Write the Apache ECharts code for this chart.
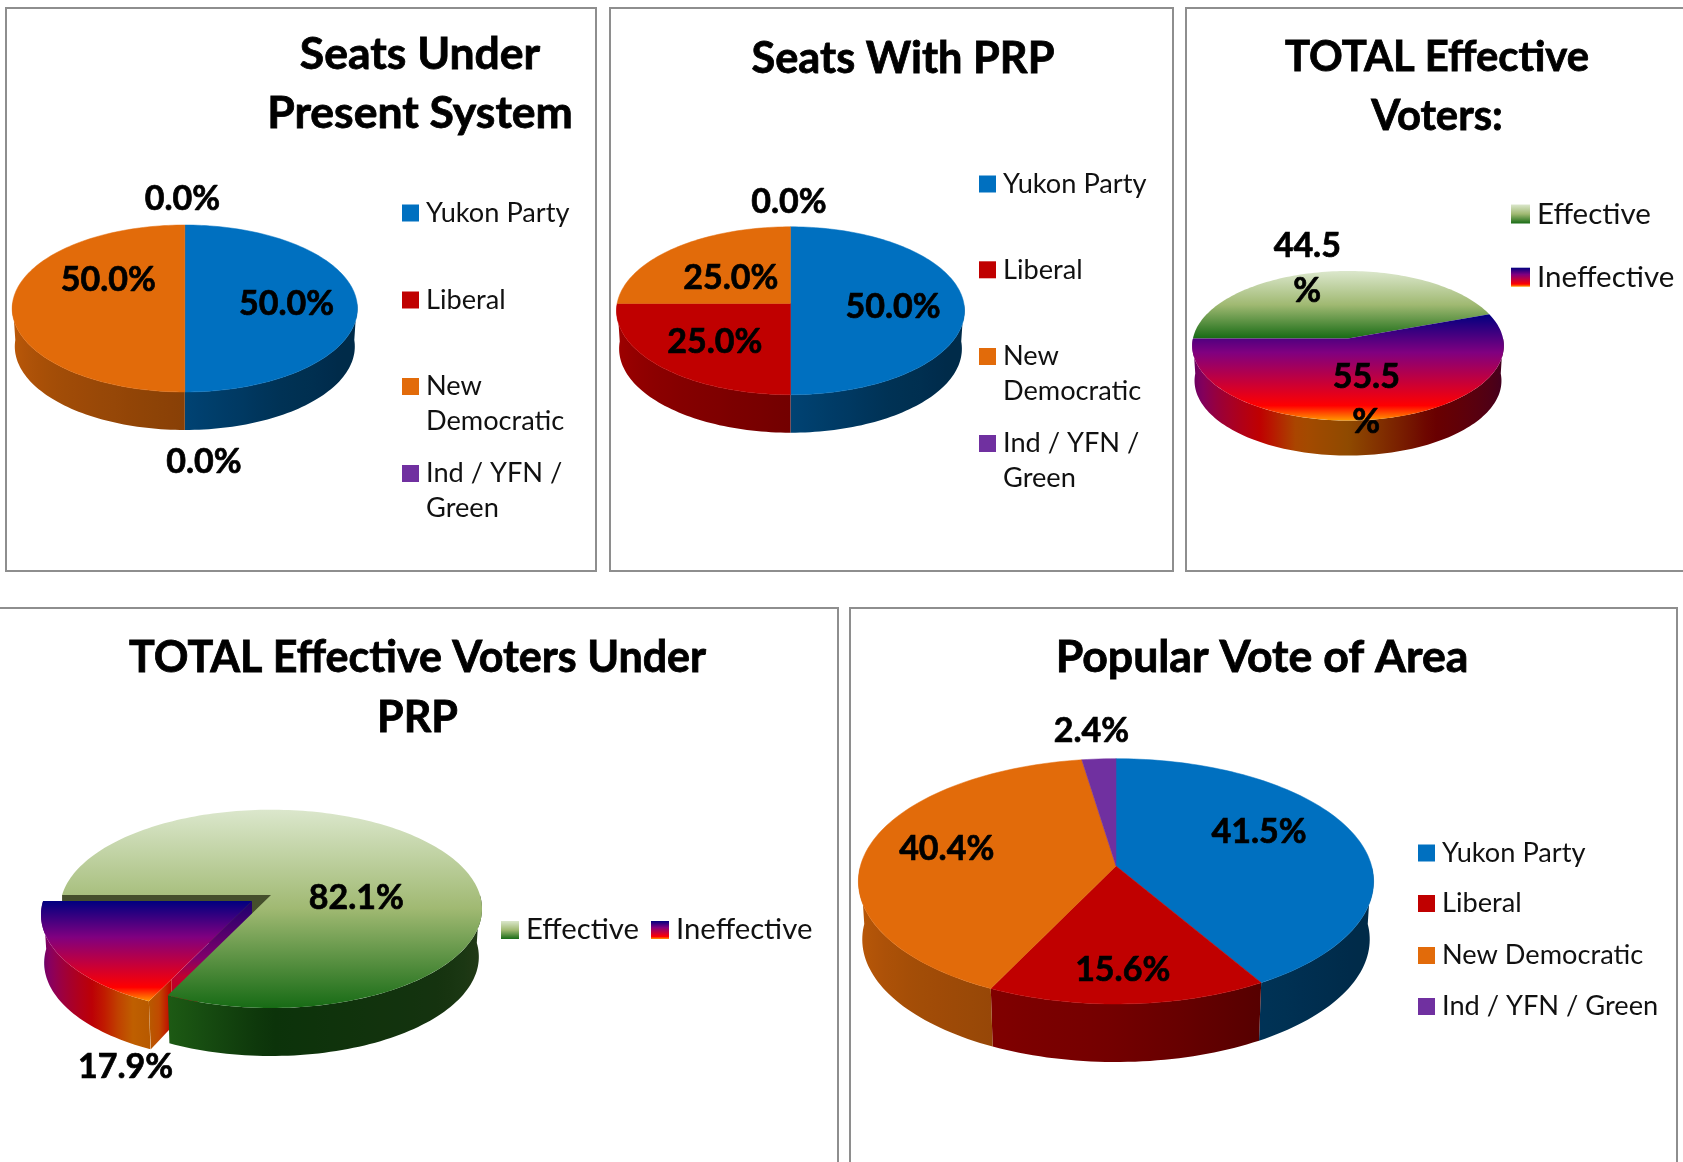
<!DOCTYPE html>
<html>
<head>
<meta charset="utf-8">
<style>html,body{margin:0;padding:0;background:#fff}#chart{width:1683px;height:1162px}</style>
<script src="https://cdn.jsdelivr.net/npm/echarts@6/dist/echarts.min.js"></script>
</head>
<body>
<div id="chart"></div>
<script>
// ---- data ----
const partyNames = ['Yukon Party', 'Liberal', 'New Democratic', 'Ind / YFN / Green'];
const voterNames = ['Effective', 'Ineffective'];
const seatsPresent = [50.0, 0.0, 50.0, 0.0];
const seatsPRP = [50.0, 25.0, 25.0, 0.0];
const totalEffective = [44.5, 55.5];
const totalEffectivePRP = [82.1, 17.9];
const popularVote = [41.5, 15.6, 40.4, 2.4];

// ---- styling ----
const FONT = 'Lato';
const partyColors = ['#0070c0', '#c00000', '#e26b0a', '#7030a0'];
const effStops = [[0, '#dbe7cc'], [0.5, '#a0b972'], [1, '#176b15']];
const ineffStops = [[0, '#000080'], [0.36, '#800080'], [0.86, '#ff0000'], [1, '#ff9a00']];
const shadeAnchors = [[90, .38], [120, .38], [150, .45], [180, .6], [225, .72], [270, .87]];
const effWall = [[90, '#2a3f1c'], [135, '#15330f'], [180, '#0c330a'], [205, '#1d5a14'], [270, '#2a6a20']];
const ineffWall = [[90, '#35002a'], [150, '#6a0000'], [180, '#8f4a00'], [197, '#a84a00'], [211, '#c00000'], [245, '#800060'], [270, '#4a0060']];
const ineffWallExploded = [[90, '#c00000'], [205.6, '#b85a00'], [211, '#c06000'], [222, '#c00000'], [245, '#8a0060'], [270, '#3a0070']];

const panels = [
  { names: partyNames, values: seatsPresent, start: 0,
    box: [6, 8, 590, 563],
    title: 'Seats Under\nPresent System', titleX: 420, titleY: 25, titleLH: 59, titleSize: 44.5,
    geo: { cx: 184.8, apexY: 302, rx: 172.6, rTop: 77, rBot: 90, depth: 38 },
    labels: [[286.6, 303.7], [204, 462.5], [108.4, 280], [182.5, 199.5]], labelSize: 34,
    legend: { x: 402, ys: [213, 300, 386.5, 473.5], size: 27.2, lh: 35, icon: 17,
      text: ['Yukon Party', 'Liberal', '\nNew\nDemocratic', '\nInd / YFN /\nGreen'] } },
  { names: partyNames, values: seatsPRP, start: 0,
    box: [610, 8, 563, 563],
    title: 'Seats With PRP', titleX: 903, titleY: 30, titleLH: 59, titleSize: 43.3,
    geo: { cx: 790.5, apexY: 303.4, rx: 174, rTop: 76.6, rBot: 91.3, depth: 38 },
    labels: [[893, 306.9], [714.8, 342.3], [730.9, 278], [788.9, 201.7]], labelSize: 34,
    legend: { x: 979, ys: [184, 269.8, 356.5, 443.5], size: 27.2, lh: 35, icon: 17,
      text: ['Yukon Party', 'Liberal', '\nNew\nDemocratic', '\nInd / YFN /\nGreen'] } },
  { names: voterNames, values: totalEffective, start: 270, gradients: [effStops, ineffStops],
    walls: [effWall, ineffWall],
    box: [1186, 8, 510, 563],
    title: 'TOTAL Effective\nVoters:', titleX: 1437, titleY: 28, titleLH: 59, titleSize: 41.8,
    geo: { cx: 1348, apexY: 338.5, rx: 155.8, rTop: 67.5, rBot: 82, depth: 35 },
    labels: [[1307.3, 269], [1366.3, 400]], labelSize: 34, labelWrap: true,
    legend: { x: 1511, ys: [214, 277.2], size: 29.5, lh: 36, icon: 19 } },
  { names: voterNames, values: totalEffectivePRP, start: 270, gradients: [effStops, ineffStops],
    walls: [effWall, ineffWallExploded], explode: [null, [-19, 6]],
    box: [-6, 608, 844, 570],
    title: 'TOTAL Effective Voters Under\nPRP', titleX: 417.5, titleY: 628, titleLH: 60, titleSize: 43,
    geo: { cx: 271, apexY: 895, rx: 211, rTop: 85.3, rBot: 113, depth: 48 },
    labels: [[356.3, 898.3], [125.6, 1066.8]], labelSize: 34,
    legend: { x: 501, ys: [930], size: 29.3, lh: 36, icon: 18, horizontal: true, gap: 12 } },
  { names: partyNames, values: popularVote, start: 0,
    box: [850, 608, 827, 570],
    title: 'Popular Vote of Area', titleX: 1262, titleY: 628, titleLH: 60, titleSize: 44.6,
    geo: { cx: 1116, apexY: 866, rx: 257.6, rTop: 107.3, rBot: 138, depth: 58 },
    labels: [[1259, 831.7], [1122.7, 970.2], [946.7, 848.9], [1091.5, 730.8]], labelSize: 34,
    legend: { x: 1418, ys: [853, 903.5, 955.5, 1006.5], size: 27.2, lh: 35, icon: 17 } }
];

// ---- helpers ----
function hex(c) { return [1, 3, 5].map(i => parseInt(c.substr(i, 2), 16)); }
function rgb(a) { return 'rgb(' + a.map(v => Math.round(v)).join(',') + ')'; }
function mix(a, b, t) { return a.map((v, i) => v + (b[i] - v) * t); }
function anchorsFor(base) { const c = hex(base); return shadeAnchors.map(([a, f]) => [a, rgb(c.map(v => v * f))]); }
function parseC(s) { return s[0] === '#' ? hex(s) : s.match(/[\d.]+/g).map(Number); }
function colorAt(anchors, ang) {
  let a = ((ang % 360) + 360) % 360;
  if (a < 90) a = 90; if (a > 270) a = 270;
  for (let i = 0; i < anchors.length - 1; i++) {
    if (a <= anchors[i + 1][0]) {
      const t = (a - anchors[i][0]) / (anchors[i + 1][0] - anchors[i][0]);
      return rgb(mix(parseC(anchors[i][1]), parseC(anchors[i + 1][1]), t));
    }
  }
  return anchors[anchors.length - 1][1];
}
function projector(g) {
  const k = (g.rBot - g.rTop) / (g.rBot + g.rTop);
  const b = g.rTop * (1 + k);
  const rx0 = g.rx * Math.sqrt(1 - k * k);
  return deg => {
    const t = deg * Math.PI / 180, u = Math.sin(t), v = Math.cos(t), d = 1 + k * v;
    return [g.cx + rx0 * u / d, g.apexY - b * v / d];
  };
}
function samples(a, b) {
  const n = Math.max(2, Math.ceil((b - a) / 1.5)), out = [];
  for (let i = 0; i <= n; i++) out.push(a + (b - a) * i / n);
  return out;
}
const BASE_SCALE = 0.985;
function vGrad(stops) { return new echarts.graphic.LinearGradient(0, 0, 0, 1, stops.map(([o, c]) => ({ offset: o, color: c }))); }
function hGrad(stops) { return new echarts.graphic.LinearGradient(0, 0, 1, 0, stops.map(([o, c]) => ({ offset: o, color: c }))); }

function sliceRange(panel, i) {
  const total = panel.values.reduce((s, v) => s + v, 0);
  const before = panel.values.slice(0, i).reduce((s, v) => s + v, 0);
  const a0 = panel.start + before / total * 360;
  return [a0, a0 + panel.values[i] / total * 360];
}

function wallRender(panel, i) {
  return function (params, api) {
    if (!api.value(0)) return { type: 'group', children: [] };
    const g = panel.geo, rim = projector(g), [a0, a1] = sliceRange(panel, i);
    const off = (panel.explode && panel.explode[i]) || [0, 0];
    const P = a => { const p = rim(a); return [p[0] + off[0], p[1] + off[1]]; };
    const B = a => { const p = rim(a); return [g.cx + off[0] + (p[0] - g.cx) * BASE_SCALE, p[1] + off[1] + g.depth]; };
    const anchors = panel.walls ? panel.walls[i] : anchorsFor(partyColors[i]);
    const children = [];
    if (panel.explode && panel.explode[i]) {
      // wall of the notch the pulled-out slice leaves behind, then the slice's own cut face
      const L = rim(a1), ax = g.cx, ay = g.apexY;
      children.push({ type: 'polygon', shape: { points: [[ax, ay], L, [L[0], L[1] + g.depth], [ax, ay + g.depth]] }, style: { fill: '#454f2c' } });
      const A = [ax + off[0], ay + off[1]], T = P(a0), d = g.depth;
      const Q = [T[0] + (A[0] - T[0]) * 0.22, T[1] + (A[1] - T[1]) * 0.22];
      children.push({ type: 'polygon', shape: { points: [A, Q, [Q[0], Q[1] + d], [A[0], A[1] + d]] },
        style: { fill: vGrad([[0, '#1a0070'], [0.45, '#80006a'], [0.6, '#c00030'], [1, '#c00000']]) } });
      children.push({ type: 'polygon', shape: { points: [T, Q, [Q[0], Q[1] + d], [T[0] + 2, T[1] + d]] },
        style: { fill: hGrad([[0, '#b85a00'], [0.45, '#c04a00'], [1, '#c00000']]) } });
    }
    [0, 360].forEach(s => {
      const a = Math.max(a0, 90 + s), b = Math.min(a1, 270 + s);
      if (b - a < 0.01) return;
      const angs = samples(a, b);
      const top = angs.map(P), base = angs.map(B).reverse();
      const pts = top.concat(base), xs = pts.map(p => p[0]);
      const minX = Math.min.apply(null, xs), maxX = Math.max.apply(null, xs);
      const stops = angs.filter((x, j) => j % 3 === 0 || j === angs.length - 1)
        .map(x => ({ offset: Math.min(1, Math.max(0, (P(x)[0] - minX) / (maxX - minX))), color: colorAt(anchors, x) }))
        .sort((p, q) => p.offset - q.offset);
      children.push({ type: 'polygon', shape: { points: pts }, style: { fill: new echarts.graphic.LinearGradient(0, 0, 1, 0, stops) } });
    });
    return { type: 'group', children };
  };
}
function topRender(panel, i) {
  return function (params, api) {
    if (!api.value(0)) return { type: 'group', children: [] };
    const g = panel.geo, rim = projector(g), [a0, a1] = sliceRange(panel, i);
    const off = (panel.explode && panel.explode[i]) || [0, 0];
    const pts = [[g.cx + off[0], g.apexY + off[1]]].concat(samples(a0, a1).map(a => { const p = rim(a); return [p[0] + off[0], p[1] + off[1]]; }));
    const fill = panel.gradients ? vGrad(panel.gradients[i]) : partyColors[i];
    return { type: 'polygon', shape: { points: pts }, style: { fill: fill, stroke: panel.gradients ? null : fill, lineWidth: 0.5 } };
  };
}
function labelRender(panel) {
  return function (params, api) {
    const p = panel.labels[params.dataIndex];
    let txt = api.value(0).toFixed(1);
    txt += panel.labelWrap ? '\n%' : '%';
    return { type: 'text', style: { text: txt, x: p[0], y: p[1], align: 'center', verticalAlign: 'middle',
      font: 'bold ' + panel.labelSize + 'px ' + FONT, fill: '#000', stroke: '#000', lineWidth: 0.7, lineHeight: 45 } };
  };
}

// ---- option ----
const series = [], legends = [], titles = [], boxes = [];
panels.forEach((panel, pi) => {
  boxes.push({ type: 'rect', shape: { x: panel.box[0], y: panel.box[1], width: panel.box[2], height: panel.box[3] },
    style: { fill: '#fff', stroke: '#8e8e8e', lineWidth: 2 }, silent: true, z: 0 });
  titles.push({ text: panel.title, left: panel.titleX, top: panel.titleY, textAlign: 'center', padding: 0,
    textStyle: { fontFamily: FONT, fontWeight: 'bold', fontSize: panel.titleSize, lineHeight: panel.titleLH, color: '#000',
      textBorderColor: '#000', textBorderWidth: 0.8 } });
  panel.names.forEach((name, i) => {
    const legendColor = panel.gradients
      ? new echarts.graphic.LinearGradient(0, 0, 0, 1, panel.gradients[i].map(([o, c]) => ({ offset: o, color: c })))
      : partyColors[i];
    const exploded = panel.explode && panel.explode[i];
    series.push({ type: 'custom', name, coordinateSystem: 'none', silent: true, z: exploded ? 2 : 3,
      itemStyle: { color: legendColor }, data: [[panel.values[i]]], renderItem: wallRender(panel, i), animation: false });
    series.push({ type: 'custom', name, coordinateSystem: 'none', silent: true, z: exploded ? 5 : 4,
      itemStyle: { color: legendColor }, data: [[panel.values[i]]], renderItem: topRender(panel, i), animation: false });
  });
  series.push({ type: 'custom', name: 'labels ' + pi, coordinateSystem: 'none', silent: true, z: 8,
    data: panel.values.map(v => [v]), renderItem: labelRender(panel), animation: false });

  const L = panel.legend;
  const common = { icon: 'rect', padding: 0, itemWidth: L.icon, itemHeight: L.icon, selectedMode: false,
    textStyle: { fontFamily: FONT, fontSize: L.size, lineHeight: L.lh, color: '#111', padding: [0, 0, 0, 2] } };
  if (L.horizontal) {
    legends.push(Object.assign({}, common, { orient: 'horizontal', left: L.x, top: L.ys[0] - L.lh / 2, itemGap: L.gap, data: panel.names }));
  } else {
    panel.names.forEach((name, i) => {
      const text = L.text ? L.text[i] : name;
      const n = text.split('\n').length;
      legends.push(Object.assign({}, common, { orient: 'vertical', left: L.x, top: L.ys[i] - n * L.lh / 2, data: [name],
        formatter: () => text }));
    });
  }
});

const chart = echarts.init(document.getElementById('chart'), null, { renderer: 'canvas' });
chart.setOption({
  backgroundColor: '#fff',
  animation: false,
  title: titles,
  legend: legends,
  graphic: { elements: boxes },
  series
});
</script>
</body>
</html>
